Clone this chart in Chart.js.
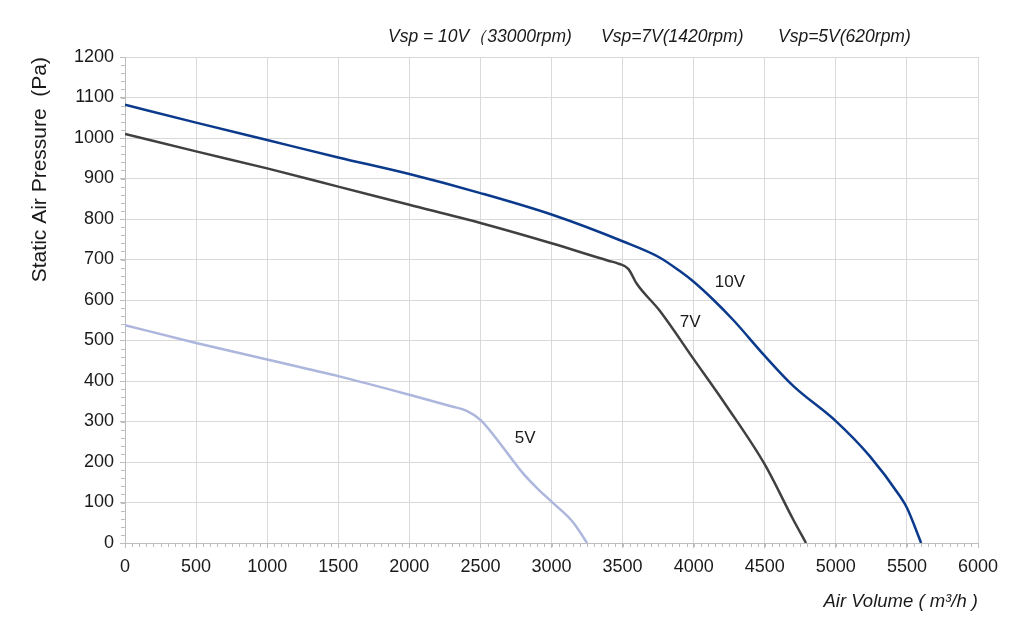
<!DOCTYPE html>
<html lang="en">
<head>
    <meta charset="UTF-8">
    <title>Fan curve</title>
<script src="https://cdn.jsdelivr.net/npm/chart.js@4.4.1/dist/chart.umd.min.js"></script>
<style>
    body { margin: 0; background: #fff; }
    #wrap { width: 1024px; height: 623px; }
</style>
</head>
<body>
    <div id="wrap">
        <canvas id="fanChart"></canvas>
    </div>
<script>
// values (air volume m3/h -> static pressure Pa)
var airVolume10 = [0, 500, 1000, 1500, 2000, 2500, 3000, 3500, 3760, 3900, 4000, 4140, 4280, 4500, 4700, 5000, 5240, 5450, 5500, 5600];
var pressure10  = [1082, 1038, 995, 952, 911, 864, 811, 745, 705, 672, 645, 600, 550, 462, 388, 301, 214, 116, 87, 0];

var airVolume7 = [0, 500, 1000, 1500, 2000, 2500, 3000, 3400, 3470, 3540, 3600, 3760, 4000, 4230, 4500, 4700, 4790];
var pressure7  = [1010, 967, 925, 880, 835, 790, 740, 697, 690, 677, 640, 574, 454, 339, 194, 58, 0];

var airVolume5 = [0, 500, 1000, 1500, 2000, 2300, 2400, 2500, 2600, 2700, 2800, 2900, 3000, 3150, 3250];
var pressure5  = [538, 494, 453, 412, 366, 337, 327, 304, 263, 217, 172, 135, 102, 52, 0];

var seriesNames  = ['10V', '7V', '5V'];
var seriesColors = ['#0b3a8c', '#404040', '#adb6dc'];
var headerTexts  = ['Vsp = 10V（33000rpm)', 'Vsp=7V(1420rpm)', 'Vsp=5V(620rpm)'];

// where the curve names sit, in data units
var curveLabelX = [4255, 3975, 2815];
var curveLabelY = [643, 545, 258];

var pairs = function(xs, ys) {
    var out = [];
    for (var i = 0; i < xs.length; i++) {
        out.push({ x: xs[i], y: ys[i] });
    }
    return out;
};

var curve = function(name, xs, ys, color) {
    return {
        label: name,
        data: pairs(xs, ys),
        borderColor: color,
        backgroundColor: color,
        borderWidth: 2.5,
        pointRadius: 0,
        cubicInterpolationMode: 'monotone',
        fill: false
    };
};

var FONT = "'Liberation Sans', Arial, sans-serif";
var gridColor = '#d9d9d9';
var plain = function(v) { return String(v); };

// small ticks every 50 m3/h and every 20 Pa, plus the texts on top
var extras = {
    id: 'extras',
    afterDraw: function(chart) {
        var c = chart.ctx;
        var xs = chart.scales.x, ys = chart.scales.y;
        var area = chart.chartArea;
        c.save();
        c.strokeStyle = '#bdbdbd';
        c.lineWidth = 1;
        c.beginPath();
        for (var v = 0; v <= 6000; v += 50) {
            var px = Math.round(xs.getPixelForValue(v)) + 0.5;
            c.moveTo(px, area.bottom);
            c.lineTo(px, area.bottom + 4);
        }
        for (var p = 0; p <= 1200; p += 20) {
            var py = Math.round(ys.getPixelForValue(p)) + 0.5;
            c.moveTo(area.left, py);
            c.lineTo(area.left - 4, py);
        }
        c.stroke();

        c.fillStyle = '#1a1a1a';
        c.font = '17px ' + FONT;
        c.textAlign = 'center';
        c.textBaseline = 'middle';
        for (var i = 0; i < seriesNames.length; i++) {
            c.fillText(seriesNames[i], xs.getPixelForValue(curveLabelX[i]), ys.getPixelForValue(curveLabelY[i]));
        }

        c.font = 'italic 17.5px ' + FONT;
        c.textAlign = 'left';
        var hx = [388, 601, 778];
        for (var j = 0; j < headerTexts.length; j++) {
            c.fillText(headerTexts[j], hx[j], 37);
        }
        c.restore();
    }
};

const ctx = document.getElementById('fanChart').getContext('2d');
const fanChart = new Chart(ctx, {
    type: 'line',
    data: {
        datasets: [
            curve(seriesNames[0], airVolume10, pressure10, seriesColors[0]),
            curve(seriesNames[1], airVolume7, pressure7, seriesColors[1]),
            curve(seriesNames[2], airVolume5, pressure5, seriesColors[2])
        ]
    },
    options: {
        responsive: true,
        maintainAspectRatio: false,
        animation: false,
        layout: { padding: { top: 57, right: 46, left: 0, bottom: 0 } },
        plugins: {
            legend: { display: false },
            tooltip: { enabled: false }
        },
        scales: {
            x: {
                type: 'linear',
                min: 0,
                max: 6000,
                ticks: { stepSize: 500, color: '#1a1a1a', padding: 8, callback: plain, font: { family: FONT, size: 18 } },
                grid: { color: gridColor, tickColor: '#bdbdbd', tickLength: 5 },
                border: { color: '#bdbdbd' },
                title: {
                    display: true,
                    text: 'Air Volume ( m³/h )',
                    align: 'end',
                    color: '#1a1a1a',
                    padding: { top: 0, bottom: 10 },
                    font: { family: FONT, size: 18.5, style: 'italic' }
                },
                afterFit: function(scale) { scale.height = 80; }
            },
            y: {
                min: 0,
                max: 1200,
                ticks: { stepSize: 100, color: '#1a1a1a', padding: 6, callback: plain, font: { family: FONT, size: 18 } },
                grid: { color: gridColor, tickColor: '#bdbdbd', tickLength: 5 },
                border: { color: '#bdbdbd' },
                title: {
                    display: true,
                    text: 'Static Air Pressure  (Pa)',
                    align: 'end',
                    color: '#1a1a1a',
                    padding: { top: 28, bottom: 0 },
                    font: { family: FONT, size: 21 }
                },
                afterFit: function(scale) { scale.width = 125; }
            }
        }
    },
    plugins: [extras]
});
</script>
</body>
</html>
